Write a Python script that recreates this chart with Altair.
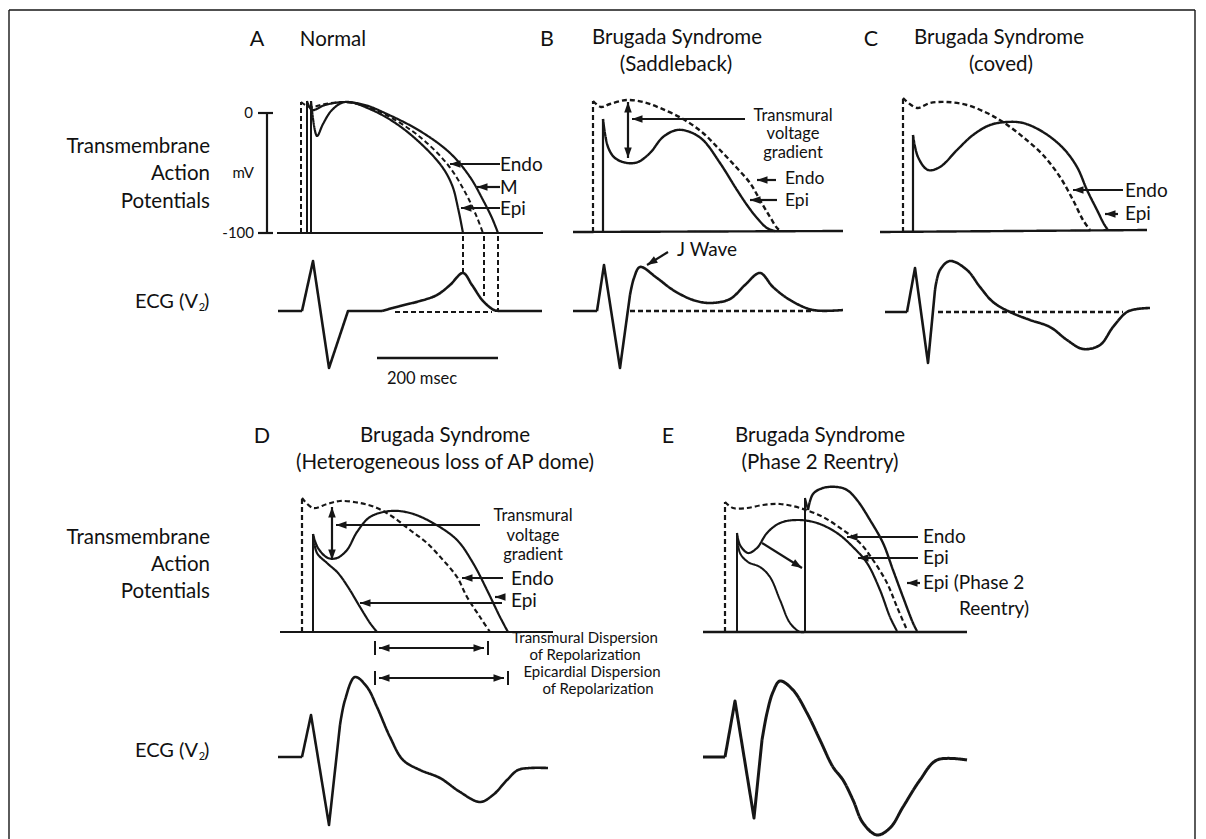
import math
import altair as alt
import pandas as pd

INK = "#161616"
FONT = "Lato"

# ---------------- curve data (picture coordinates, y downward) ----------------
# Panel A  (Normal)
A_BASE = [(277, 233), (543, 233)]
A_UP_M = [(301, 233), (301, 102)]
A_UP_ENDO = [(307, 233), (307, 101)]
A_UP_EPI = [(311, 233), (311, 101)]
A_M = [(301, 102), (310, 107), (325, 104), (345, 102), (365, 106), (390, 117), (420, 137),
       (448, 165), (465, 192), (476, 215), (483, 233)]
A_ENDO = [(307, 101), (312, 110), (325, 105), (345, 102), (365, 105), (387, 114), (420, 131),
          (450, 153), (470, 177), (483, 200), (492, 218), (498, 233)]
A_EPI = [(311, 101), (317, 136), (323, 124), (332, 110), (345, 102), (372, 110), (405, 130),
         (440, 164), (452, 185), (458, 208), (463, 233)]
A_ECG_QRS = [(278, 311), (302, 311), (313, 261), (329, 368), (348, 311), (382, 311)]
A_ECG_T = [(382, 311), (400, 306), (420, 301), (437, 295), (450, 285), (463, 273), (472, 285),
           (483, 301), (494, 310), (500, 311)]
A_ECG_TAIL = [(500, 311), (542, 311)]
A_ECG_ISO = [(395, 312), (492, 312)]
A_DROPS = [(463, 236, 273), (484, 236, 296), (498, 236, 311)]
A_SCALEBAR = [(377, 358), (498, 358)]

# Panel B  (Saddleback)
B_BASE = [(573, 232), (843, 231)]
B_UP_ENDO = [(593, 232), (593, 101)]
B_UP_EPI = [(603, 232), (603, 119)]
B_ENDO = [(593, 101), (601, 107), (610, 104), (627, 100), (643, 102), (660, 108), (683, 119),
          (703, 133), (720, 150), (737, 168), (750, 183), (760, 200), (770, 217), (778, 229), (782, 231)]
B_EPI = [(603, 119), (608, 147), (615, 158), (627, 163), (638, 162), (650, 153), (663, 137),
         (677, 130), (690, 132), (703, 140), (720, 163), (737, 190), (747, 205), (757, 218),
         (767, 228), (775, 231)]
B_ECG_QRS = [(573, 311), (597, 311), (604, 265), (620, 368), (630, 295)]
B_ECG_ST = [(630, 295), (634, 278), (640, 267), (657, 278), (673, 290), (693, 300), (710, 303),
            (730, 299), (745, 285), (760, 273), (773, 287), (790, 300), (813, 310), (843, 310)]
B_ECG_ISO = [(630, 311), (813, 311)]

# Panel C  (coved)
C_BASE = [(880, 232), (1147, 230)]
C_UP_ENDO = [(903, 232), (903, 98)]
C_UP_EPI = [(913, 232), (913, 135)]
C_ENDO = [(903, 98), (917, 108), (930, 103), (947, 102), (967, 105), (987, 113), (1003, 122),
          (1023, 137), (1043, 155), (1060, 177), (1073, 200), (1083, 220), (1090, 230)]
C_EPI = [(913, 135), (918, 157), (928, 170), (940, 167), (957, 150), (973, 135), (990, 125),
         (1007, 122), (1023, 123), (1043, 132), (1063, 148), (1077, 167), (1087, 190),
         (1097, 210), (1104, 224), (1108, 230)]
C_ECG_QRS = [(885, 312), (907, 312), (915, 268), (928, 363), (935, 290)]
C_ECG_ST = [(935, 290), (940, 270), (950, 261), (967, 270), (980, 287), (993, 302), (1010, 312),
            (1030, 320), (1050, 327), (1067, 340), (1083, 349), (1100, 345), (1113, 327),
            (1127, 312), (1137, 309), (1150, 308)]
C_ECG_ISO = [(938, 312), (1123, 312)]

# Panel D  (heterogeneous loss of AP dome)
D_BASE = [(280, 632), (553, 632)]
D_UP_ENDO = [(302, 632), (302, 498)]
D_UP_EPI = [(313, 632), (313, 534)]
D_ENDO = [(302, 498), (313, 508), (327, 504), (340, 501), (360, 503), (377, 508), (393, 517),
          (410, 530), (427, 543), (443, 560), (457, 577), (467, 597), (480, 617), (490, 632)]
D_EPI_DOME = [(313, 534), (318, 548), (328, 558), (337, 558), (347, 550), (357, 532), (370, 517),
              (390, 511), (410, 513), (433, 523), (457, 540), (473, 563), (487, 590), (500, 617),
              (508, 632)]
D_EPI_LOSS = [(313, 534), (317, 553), (327, 563), (338, 573), (348, 587), (360, 607), (370, 623),
              (377, 632)]
D_ECG_QRS = [(278, 757), (302, 757), (311, 715), (329, 825), (340, 725)]
D_ECG_ST = [(340, 725), (345, 700), (355, 677), (367, 687), (377, 707), (390, 737), (403, 760),
            (420, 770), (440, 778), (460, 792), (480, 802), (493, 795), (507, 780), (518, 770),
            (530, 768), (548, 768)]

# Panel E  (phase 2 reentry)
E_BASE = [(703, 632), (967, 632)]
E_UP_ENDO = [(725, 632), (725, 502)]
E_UP_EPI = [(737, 632), (737, 533)]
E_UP_P2R = [(805, 632), (805, 498), (808, 510)]
E_ENDO = [(725, 502), (733, 508), (747, 508), (763, 505), (780, 504), (800, 508), (823, 517),
          (843, 530), (860, 543), (873, 560), (887, 583), (897, 607), (907, 630)]
E_EPI_DOME = [(737, 533), (740, 545), (748, 553), (757, 548), (767, 533), (780, 523), (797, 520),
              (817, 523), (837, 533), (853, 547), (867, 563), (880, 590), (890, 617), (897, 631)]
E_EPI_LOSS = [(737, 533), (740, 553), (748, 562), (760, 567), (770, 577), (780, 600), (790, 623),
              (800, 632), (805, 632)]
E_P2R = [(808, 510), (813, 494), (823, 488), (837, 487), (847, 490), (857, 500), (870, 520),
         (883, 543), (893, 570), (903, 597), (913, 623), (917, 631)]
E_ECG_QRS = [(703, 757), (725, 757), (735, 701), (754, 818), (762, 740)]
E_ECG_ST = [(762, 740), (767, 713), (773, 692), (780, 681), (793, 690), (807, 713), (820, 740),
            (833, 767), (843, 780), (853, 800), (863, 823), (877, 835), (890, 828), (903, 807),
            (920, 780), (937, 760), (967, 760)]

# ---------------- annotation arrows: (x1, y1, x2, y2, heads) ----------------
ARROWS = [
    (500, 164, 450, 164, "end"), (500, 187, 477, 187, "end"), (500, 208, 461, 208, "end"),
    (628, 102, 628, 158, "both"), (745, 119, 632, 119, "end"),
    (776, 180, 757, 180, "end"), (777, 200, 750, 200, "end"),
    (668, 252, 647, 265, "end"),
    (1123, 190, 1073, 190, "end"), (1118, 214, 1105, 214, "end"),
    (332, 507, 332, 560, "both"), (480, 525, 336, 525, "end"),
    (503, 578, 462, 578, "end"), (502, 603, 360, 603, "end"), (503, 597, 495, 597, "end"),
    (379, 648, 484, 648, "both"), (379, 678, 504, 678, "both"),
    (762, 543, 802, 568, "end"),
    (918, 537, 847, 537, "end"), (918, 558, 858, 558, "end"), (920, 583, 907, 583, "end"),
]
BAR_TICKS = [(375, 648), (488, 648), (375, 678), (508, 678)]

# mV axis of panel A
AXIS_A = [(267, 113, 267, 233), (258, 113, 273, 113), (258, 233, 273, 233)]

# ---------------- text: (x, y, text) ----------------
PANEL_LETTERS = [(257, 40, "A"), (547, 40, "B"), (871, 40, "C"), (262, 437, "D"), (668, 437, "E")]
TITLES = [
    (333, 40, "Normal"),
    (677, 38, "Brugada Syndrome"), (676, 65, "(Saddleback)"),
    (999, 38, "Brugada Syndrome"), (1001, 65, "(coved)"),
    (445, 436, "Brugada Syndrome"), (445, 463, "(Heterogeneous loss of AP dome)"),
    (820, 436, "Brugada Syndrome"), (820, 463, "(Phase 2 Reentry)"),
]
ROW_LABELS = [
    (210, 147, "Transmembrane"), (210, 174, "Action"), (210, 202, "Potentials"),
    (210, 538, "Transmembrane"), (210, 565, "Action"), (210, 592, "Potentials"),
]
ECG_LABEL_Y = [302, 751]
CURVE_LABELS = [
    (500, 165, "Endo"), (500, 188, "M"), (500, 209, "Epi"),
    (1125, 191, "Endo"), (1125, 214, "Epi"),
    (511, 579, "Endo"), (511, 601, "Epi"),
    (923, 537, "Endo"), (923, 558, "Epi"), (923, 583, "Epi (Phase 2"), (959, 609, "Reentry)"),
    (677, 250, "J Wave"),
]
CURVE_LABELS_B = [(785, 179, "Endo"), (785, 201, "Epi")]
GRADIENT_LABELS = [
    (793, 116, "Transmural"), (793, 134, "voltage"), (793, 153, "gradient"),
    (533, 516, "Transmural"), (533, 536, "voltage"), (533, 555, "gradient"),
    (422, 379, "200 msec"),
]
DISPERSION_LABELS = [
    (585, 638, "Transmural Dispersion"), (585, 655, "of Repolarization"),
    (592, 672, "Epicardial Dispersion"), (598, 689, "of Repolarization"),
]
AXIS_LABELS = [(253, 113, "0"), (254, 233, "-100"), (254, 173, "mV")]

# ---------------- build tables ----------------
SOLID, DASH = "solid", "dashed"
smooth_curves = [
    (A_M, DASH, 2.0), (A_ENDO, SOLID, 2.2), (A_EPI, SOLID, 2.2), (A_ECG_T, SOLID, 2.6),
    (B_ENDO, DASH, 2.4), (B_EPI, SOLID, 2.4), (B_ECG_ST, SOLID, 2.6),
    (C_ENDO, DASH, 2.4), (C_EPI, SOLID, 2.4), (C_ECG_ST, SOLID, 2.6),
    (D_ENDO, DASH, 2.2), (D_EPI_DOME, SOLID, 2.2), (D_EPI_LOSS, SOLID, 2.2), (D_ECG_ST, SOLID, 2.6),
    (E_ENDO, DASH, 2.2), (E_EPI_DOME, SOLID, 2.2), (E_EPI_LOSS, SOLID, 2.0), (E_P2R, SOLID, 2.4),
    (E_ECG_ST, SOLID, 3.0),
]
linear_curves = [
    (A_BASE, SOLID, 2.0), (A_UP_M, DASH, 2.0), (A_UP_ENDO, SOLID, 2.0), (A_UP_EPI, SOLID, 2.0),
    (A_ECG_QRS, SOLID, 2.6), (A_ECG_TAIL, SOLID, 2.6), (A_ECG_ISO, DASH, 2.2), (A_SCALEBAR, SOLID, 2.4),
    (B_BASE, SOLID, 2.4), (B_UP_ENDO, DASH, 2.2), (B_UP_EPI, SOLID, 2.2),
    (B_ECG_QRS, SOLID, 2.6), (B_ECG_ISO, DASH, 2.4),
    (C_BASE, SOLID, 2.4), (C_UP_ENDO, DASH, 2.2), (C_UP_EPI, SOLID, 2.2),
    (C_ECG_QRS, SOLID, 2.6), (C_ECG_ISO, DASH, 2.4),
    (D_BASE, SOLID, 2.2), (D_UP_ENDO, DASH, 2.2), (D_UP_EPI, SOLID, 2.0), (D_ECG_QRS, SOLID, 2.6),
    (E_BASE, SOLID, 2.4), (E_UP_ENDO, DASH, 2.2), (E_UP_EPI, SOLID, 2.0), (E_UP_P2R, SOLID, 2.0),
    (E_ECG_QRS, SOLID, 3.0),
]
for x, y1, y2 in A_DROPS:
    linear_curves.append(([(x, y1), (x, y2)], DASH, 2.0))


def curve_table(curves, prefix):
    rows = []
    for k, (pts, dash, sw) in enumerate(curves):
        for i, (x, y) in enumerate(pts):
            rows.append({"cid": f"{prefix}{k}", "i": i, "x": x, "y": y, "dash": dash, "sw": sw})
    return pd.DataFrame(rows)


df_smooth = curve_table(smooth_curves, "s")
df_linear = curve_table(linear_curves, "l")

seg_rows, head_rows = [], []
HEAD_SIZE = 110
HEAD_PATH = "M0,-1L0.72,1L-0.72,1Z"
HEAD_H = math.sqrt(HEAD_SIZE) / 2


def add_head(tx, ty, fx, fy):
    dx, dy = tx - fx, ty - fy
    n = math.hypot(dx, dy)
    ux, uy = dx / n, dy / n
    ang = math.degrees(math.atan2(ux, -uy)) % 360
    head_rows.append({"x": tx - ux * HEAD_H, "y": ty - uy * HEAD_H, "ang": ang})


for x1, y1, x2, y2, heads in ARROWS:
    seg_rows.append({"x": x1, "y": y1, "x2": x2, "y2": y2, "sw": 2.2})
    add_head(x2, y2, x1, y1)
    if heads == "both":
        add_head(x1, y1, x2, y2)
for x, y in BAR_TICKS:
    seg_rows.append({"x": x, "y": y - 7, "x2": x, "y2": y + 7, "sw": 2.0})
for x1, y1, x2, y2 in AXIS_A:
    seg_rows.append({"x": x1, "y": y1, "x2": x2, "y2": y2, "sw": 2.2})
# outer frame
seg_rows += [
    {"x": 9, "y": 10, "x2": 1195, "y2": 10, "sw": 1.4},
    {"x": 9, "y": 10, "x2": 9, "y2": 845, "sw": 1.4},
    {"x": 1195, "y": 10, "x2": 1195, "y2": 845, "sw": 1.4},
]
df_seg = pd.DataFrame(seg_rows)
df_head = pd.DataFrame(head_rows)

XS = alt.Scale(domain=[8, 1198], nice=False, zero=False)
YS = alt.Scale(domain=[8, 839], nice=False, zero=False, reverse=True)
X = alt.X("x:Q", scale=XS, axis=None)
Y = alt.Y("y:Q", scale=YS, axis=None)
DASH_ENC = alt.StrokeDash("dash:N", scale=alt.Scale(domain=[SOLID, DASH], range=[[1, 0], [5, 3]]), legend=None)

smooth = alt.Chart(df_smooth).mark_line(interpolate="catmull-rom", color=INK, strokeCap="butt").encode(
    x=X, y=Y, detail="cid:N", order="i:Q", strokeDash=DASH_ENC,
    strokeWidth=alt.StrokeWidth("sw:Q", scale=None))
linear = alt.Chart(df_linear).mark_line(interpolate="linear", color=INK, strokeJoin="round").encode(
    x=X, y=Y, detail="cid:N", order="i:Q", strokeDash=DASH_ENC,
    strokeWidth=alt.StrokeWidth("sw:Q", scale=None))
segs = alt.Chart(df_seg).mark_rule(color=INK).encode(
    x=X, y=Y, x2="x2:Q", y2="y2:Q", strokeWidth=alt.StrokeWidth("sw:Q", scale=None))
heads = alt.Chart(df_head).mark_point(shape=HEAD_PATH, filled=True, color=INK, opacity=1,
                                      size=HEAD_SIZE, strokeWidth=0).encode(
    x=X, y=Y, angle=alt.Angle("ang:Q", scale=None))


def text_layer(items, size, align="center", dy=0):
    df = pd.DataFrame([{"x": x, "y": y, "t": t} for x, y, t in items])
    return alt.Chart(df).mark_text(font=FONT, fontSize=size, align=align, baseline="middle",
                                   color="#111111", dy=dy).encode(x=X, y=Y, text="t:N")


ecg_main = [(198, y, "ECG (V") for y in ECG_LABEL_Y]
ecg_sub = [(202, y + 6, "2") for y in ECG_LABEL_Y]
ecg_close = [(204, y, ")") for y in ECG_LABEL_Y]

layers = [
    smooth, linear, segs, heads,
    text_layer(PANEL_LETTERS, 21.5),
    text_layer(TITLES, 20.5),
    text_layer(ROW_LABELS, 20.5, align="right"),
    text_layer(ecg_main, 20, align="right"),
    text_layer(ecg_sub, 11),
    text_layer(ecg_close, 20, align="left"),
    text_layer(CURVE_LABELS, 19, align="left"),
    text_layer(CURVE_LABELS_B, 17.5, align="left"),
    text_layer(GRADIENT_LABELS, 16.5),
    text_layer(DISPERSION_LABELS, 15),
    text_layer(AXIS_LABELS, 15, align="right"),
]

chart = alt.layer(*layers).properties(
    width=1190, height=831, padding=0, autosize=alt.AutoSizeParams(type="none"),
    background="white",
).configure_view(stroke=None)

chart.save("out.html", embed_options={"renderer": "svg", "actions": False})
